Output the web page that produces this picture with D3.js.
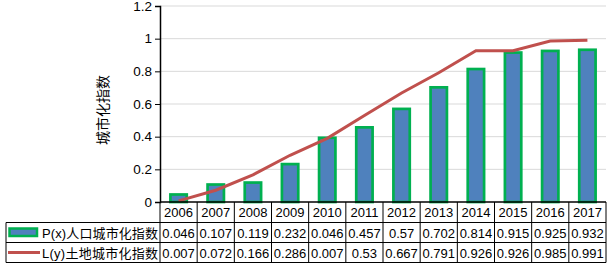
<!DOCTYPE html>
<html lang="zh">
<head>
<meta charset="UTF-8">
<title>城市化指数</title>
<script src="https://d3js.org/d3.v7.min.js"></script>
<style>
    html, body { margin: 0; background: #fff; overflow: hidden; }
    text { font-family: "Liberation Sans", Arial, "Noto Sans CJK SC", sans-serif; }
</style>
</head>
<body>
<svg id="svg" width="614" height="266"></svg>
<script>
    // data
    const years = ['2006','2007','2008','2009','2010','2011','2012','2013','2014','2015','2016','2017'];
    const popValues = [0.046, 0.107, 0.119, 0.232, 0.393, 0.457, 0.57, 0.702, 0.814, 0.915, 0.925, 0.932];
    const landValues = [0.007, 0.072, 0.166, 0.286, 0.39, 0.53, 0.667, 0.791, 0.926, 0.926, 0.985, 0.991];
    // numbers as printed in the data table
    const popLabels = ['0.046','0.107','0.119','0.232','0.046','0.457','0.57','0.702','0.814','0.915','0.925','0.932'];
    const landLabels = ['0.007','0.072','0.166','0.286','0.007','0.53','0.667','0.791','0.926','0.926','0.985','0.991'];
    const seriesNames = ['P(x)人口城市化指数', 'L(y)土地城市化指数'];
    const yTicks = [0, 0.2, 0.4, 0.6, 0.8, 1, 1.2];

    const svg = d3.select('#svg');
    const plotLeft = 160, plotRight = 606, plotTop = 6, plotBottom = 202;
    const tableLeft = 6;

    const x = d3.scaleBand().domain(years).range([plotLeft, plotRight]);
    const y = d3.scaleLinear().domain([0, 1.2]).range([plotBottom, plotTop]);

    // grid
    svg.append('g').selectAll('line').data(yTicks.filter(d => d > 0)).join('line')
        .attr('x1', plotLeft).attr('x2', plotRight)
        .attr('y1', d => y(d)).attr('y2', d => y(d))
        .attr('stroke', '#d9d9d9').attr('stroke-width', 1);

    // y axis
    const yAxis = svg.append('g').attr('transform', `translate(${plotLeft},0)`)
        .call(d3.axisLeft(y).tickValues(yTicks).tickSize(5).tickPadding(3).tickFormat(d => d));
    yAxis.select('.domain').attr('stroke', '#000').attr('stroke-width', 1.5);
    yAxis.selectAll('.tick line').attr('stroke', '#000');
    yAxis.selectAll('text').attr('font-size', 13.5).attr('fill', '#000')
        .attr('font-family', '"Liberation Sans", Arial, sans-serif');

    svg.append('text')
        .attr('transform', `translate(108,${(plotTop + plotBottom) / 2 + 6}) rotate(-90)`)
        .attr('text-anchor', 'middle')
        .attr('font-size', 14)
        .text('城市化指数');

    // bars
    const bw = x.bandwidth() * 0.44;
    svg.append('g').selectAll('rect').data(popValues).join('rect')
        .attr('x', (d, i) => x(years[i]) + (x.bandwidth() - bw) / 2)
        .attr('y', d => y(d))
        .attr('width', bw)
        .attr('height', d => plotBottom - y(d))
        .attr('fill', '#4f81bd')
        .attr('stroke', '#00b050')
        .attr('stroke-width', 2.7);

    // line
    const line = d3.line()
        .x((d, i) => x(years[i]) + x.bandwidth() / 2)
        .y(d => y(d));
    svg.append('path').datum(landValues)
        .attr('d', line)
        .attr('fill', 'none')
        .attr('stroke', '#c0504d')
        .attr('stroke-width', 3);

    // x axis baseline
    svg.append('line').attr('x1', plotLeft).attr('x2', plotRight)
        .attr('y1', plotBottom).attr('y2', plotBottom)
        .attr('stroke', '#000').attr('stroke-width', 1.5);

    // data table
    const rowTop = [plotBottom, 222.5, 242.5];
    const rowH = 20;
    const tbl = svg.append('g');
    const cellText = (txt, cx, ry) => tbl.append('text')
        .attr('x', cx).attr('y', ry + 15)
        .attr('text-anchor', 'middle')
        .attr('font-size', 13)
        .text(txt);

    years.forEach((yr, i) => {
        const cx = x(yr) + x.bandwidth() / 2;
        cellText(yr, cx, rowTop[0]);
        cellText(popLabels[i], cx, rowTop[1]);
        cellText(landLabels[i], cx, rowTop[2]);
    });

    // table borders
    const b = (x1, y1, x2, y2) => tbl.append('line')
        .attr('x1', x1).attr('y1', y1).attr('x2', x2).attr('y2', y2)
        .attr('stroke', '#000').attr('stroke-width', 1);
    b(tableLeft, rowTop[1], plotRight, rowTop[1]);
    b(tableLeft, rowTop[2], plotRight, rowTop[2]);
    b(tableLeft, rowTop[2] + rowH, plotRight, rowTop[2] + rowH);
    b(tableLeft, rowTop[1], tableLeft, rowTop[2] + rowH);
    years.forEach(yr => b(x(yr), plotBottom, x(yr), rowTop[2] + rowH));
    b(plotRight, plotBottom, plotRight, rowTop[2] + rowH);

    // legend keys
    tbl.append('rect').attr('x', 9.5).attr('y', rowTop[1] + 6).attr('width', 27.5).attr('height', 7.5)
        .attr('fill', '#4f81bd').attr('stroke', '#00b050').attr('stroke-width', 2.5);
    tbl.append('line').attr('x1', 8).attr('x2', 40)
        .attr('y1', rowTop[2] + 10).attr('y2', rowTop[2] + 10)
        .attr('stroke', '#c0504d').attr('stroke-width', 3);
    seriesNames.forEach((name, i) => {
        tbl.append('text').attr('x', 42).attr('y', rowTop[i + 1] + 15)
            .attr('font-size', 13)
            .attr('textLength', 116)
            .text(name);
    });
</script>
</body>
</html>
